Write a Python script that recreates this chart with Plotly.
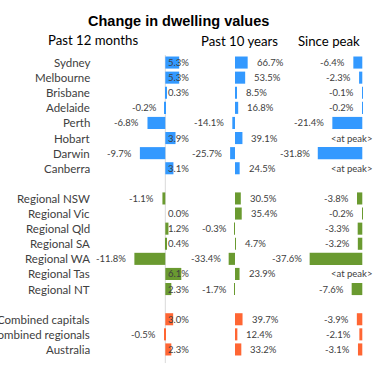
import plotly.graph_objects as go

# ---------------- data ----------------
chart_title = "Change in dwelling values"
panel_titles = ["Past 12 months", "Past 10 years", "Since peak"]

capitals = ["Sydney", "Melbourne", "Brisbane", "Adelaide", "Perth", "Hobart", "Darwin", "Canberra"]
cap_12m = [5.3, 5.3, 0.3, -0.2, -6.8, 3.9, -9.7, 3.1]
cap_10y = [66.7, 53.5, 8.5, 16.8, -14.1, 39.1, -25.7, 24.5]
cap_peak = [-6.4, -2.3, -0.1, -0.2, -21.4, None, -31.8, None]

regionals = ["Regional NSW", "Regional Vic", "Regional Qld", "Regional SA", "Regional WA",
             "Regional Tas", "Regional NT"]
reg_12m = [-1.1, 0.0, 1.2, 0.4, -11.8, 6.1, 2.3]
reg_10y = [30.5, 35.4, -0.3, 4.7, -33.4, 23.9, -1.7]
reg_peak = [-3.8, -0.2, -3.3, -3.2, -37.6, None, -7.6]

combined = ["Combined capitals", "Combined regionals", "Australia"]
comb_12m = [3.0, -0.5, 2.3]
comb_10y = [39.7, 12.4, 33.2]
comb_peak = [-3.9, -2.1, -3.1]

at_peak_text = "<at peak>"

# ---------------- styles ----------------
group_colors = ["#3399FF", "#6A9A30", "#FF6633"]
W, H = 375, 378
label_font = dict(family="Lato, Calibri, sans-serif", size=11.5, color="#404040")
value_font = dict(family="Lato, Calibri, sans-serif", size=9.5, color="#404040")

groups = [
    (capitals, [cap_12m, cap_10y, cap_peak]),
    (regionals, [reg_12m, reg_10y, reg_peak]),
    (combined, [comb_12m, comb_10y, comb_peak]),
]

# panel geometry (pixel domains, axis ranges)
panel_px = [(100, 200), (205, 300), (300, 375)]
panel_ranges = [(-24.92, 13.24), (-157.9, 342.1), (-44.5, 9.07)]
xaxes = ["x", "x2", "x3"]

fig = go.Figure()
annotations = []

row = 0
n_rows_total = sum(len(g[0]) for g in groups) + len(groups) - 1
for gi, (names, series) in enumerate(groups):
    ys = list(range(row, row + len(names)))
    for name, y in zip(names, ys):
        annotations.append(dict(x=92 / W, y=y, xref="paper", yref="y", text=name,
                                showarrow=False, xanchor="right", yanchor="middle",
                                font=label_font))
    for pi, vals in enumerate(series):
        xs = [v if v is not None else 0 for v in vals]
        fig.add_trace(go.Bar(
            x=xs, y=ys, orientation="h", width=0.8,
            marker=dict(color=group_colors[gi], line=dict(width=0)),
            xaxis=xaxes[pi], yaxis="y", hoverinfo="skip"))
        for v, y in zip(vals, ys):
            if v is None:
                annotations.append(dict(x=0, y=y, xref=xaxes[pi], yref="y", text=at_peak_text,
                                        showarrow=False, xanchor="center", xshift=-11,
                                        yanchor="middle", font=value_font))
            elif v < 0:
                annotations.append(dict(x=v, y=y, xref=xaxes[pi], yref="y", text=f"{v:.1f}%",
                                        showarrow=False, xanchor="right", xshift=-6,
                                        yanchor="middle", font=value_font))
            else:
                if pi == 0:
                    annotations.append(dict(x=0, y=y, xref=xaxes[pi], yref="y", text=f"{v:.1f}%",
                                            showarrow=False, xanchor="left", xshift=1,
                                            yanchor="middle", font=value_font))
                else:
                    annotations.append(dict(x=v, y=y, xref=xaxes[pi], yref="y", text=f"{v:.1f}%",
                                            showarrow=False, xanchor="left", xshift=7,
                                            yanchor="middle", font=value_font))
    row += len(names) + 1

# titles
top_px, bottom_px = 55, 357
plot_h = bottom_px - top_px


def py(px):
    return (bottom_px - px) / plot_h


annotations.append(dict(x=178 / W, y=py(21), xref="paper", yref="paper", text=f"<b>{chart_title}</b>",
                        showarrow=False, xanchor="center", yanchor="middle",
                        font=dict(family="Liberation Sans, Arial, sans-serif", size=14.5, color="#000000")))
for t, cx, cy in zip(panel_titles, [93, 239, 328.5], [40, 41, 41]):
    annotations.append(dict(x=cx / W, y=py(cy), xref="paper", yref="paper", text=t,
                            showarrow=False, xanchor="center", yanchor="middle",
                            font=dict(family="Lato, Calibri, sans-serif", size=13.2, color="#000000")))

layout = dict(
    width=W, height=H, autosize=False,
    margin=dict(l=0, r=0, t=top_px, b=H - bottom_px, pad=0),
    paper_bgcolor="white", plot_bgcolor="white",
    showlegend=False, barmode="overlay",
    yaxis=dict(range=[n_rows_total - 0.5, -0.5], visible=False, anchor="x"),
    annotations=annotations,
    shapes=[dict(type="line", xref="x", yref="paper", x0=0, x1=0, y0=-0.02, y1=1,
                 line=dict(color="#D9D9D9", width=1), layer="below")],
)
for i, (ax, (p0, p1), rng) in enumerate(zip(xaxes, panel_px, panel_ranges)):
    key = "xaxis" if i == 0 else f"xaxis{i + 1}"
    layout[key] = dict(domain=[p0 / W, p1 / W], range=list(rng), visible=False,
                       anchor="y", fixedrange=True, showgrid=False, zeroline=False)

fig.update_layout(**layout)
fig.write_html("out.html", config={"displayModeBar": False},
               post_script="document.body.style.margin='0';document.body.style.overflow='hidden';")
